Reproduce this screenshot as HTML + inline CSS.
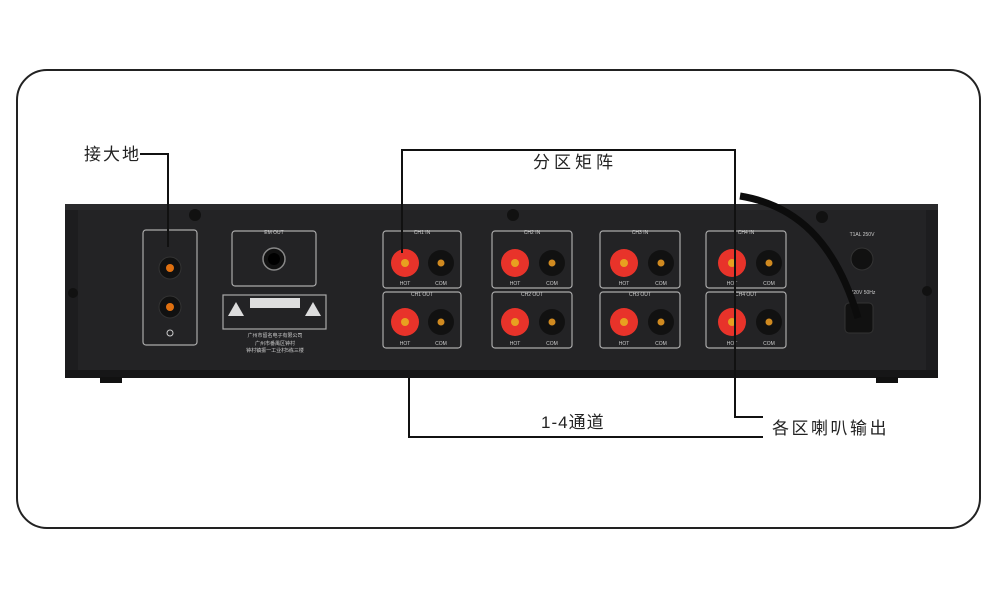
<!DOCTYPE html>
<html><head><meta charset="utf-8"><style>
html,body{margin:0;padding:0;background:#fff;}
svg{display:block;}
text{font-family:"Liberation Sans","Noto Sans CJK SC",sans-serif;}
</style></head><body>
<svg width="1000" height="595" viewBox="0 0 1000 595" xmlns="http://www.w3.org/2000/svg">
<rect x="17" y="70" width="963" height="458" rx="30" fill="#fff" stroke="#222" stroke-width="2"/>
<rect x="65" y="204" width="873" height="174" fill="#1d1d1f"/>
<rect x="65" y="204" width="873" height="6" fill="#2a2a2c"/>
<rect x="78" y="210" width="848" height="160" fill="#232325"/>
<rect x="65" y="370" width="873" height="8" fill="#161617"/>
<rect x="100" y="377" width="22" height="6" fill="#111"/>
<rect x="876" y="377" width="22" height="6" fill="#111"/>
<g fill="#111"><circle cx="195" cy="215" r="6"/><circle cx="513" cy="215" r="6"/><circle cx="822" cy="217" r="6"/><circle cx="73" cy="293" r="5"/><circle cx="927" cy="291" r="5"/></g>
<g fill="none" stroke="#aaa" stroke-width="1.2">
<rect x="143" y="230" width="54" height="115" rx="3"/>
<rect x="232" y="231" width="84" height="55" rx="3"/>
<rect x="383" y="231" width="78" height="57" rx="3"/><rect x="383" y="292" width="78" height="56" rx="3"/>
<rect x="492" y="231" width="80" height="57" rx="3"/><rect x="492" y="292" width="80" height="56" rx="3"/>
<rect x="600" y="231" width="80" height="57" rx="3"/><rect x="600" y="292" width="80" height="56" rx="3"/>
<rect x="706" y="231" width="80" height="57" rx="3"/><rect x="706" y="292" width="80" height="56" rx="3"/>
<rect x="223" y="295" width="103" height="34"/>
</g>
<g fill="#ccc" font-size="5" text-anchor="middle">
<text x="274" y="234">EM OUT</text>
<text x="422" y="234">CH1 IN</text><text x="422" y="296">CH1 OUT</text>
<text x="532" y="234">CH2 IN</text><text x="532" y="296">CH2 OUT</text>
<text x="640" y="234">CH3 IN</text><text x="640" y="296">CH3 OUT</text>
<text x="746" y="234">CH4 IN</text><text x="746" y="296">CH4 OUT</text>
<text x="862" y="236">T1AL 250V</text><text x="863" y="294">220V 50Hz</text>
<text x="275" y="337">广州市留名电子有限公司</text><text x="275" y="345">广州市番禺区钟村</text><text x="275" y="352">钟村镇振一工业村5栋三楼</text>
</g>
<rect x="250" y="298" width="50" height="10" fill="#ddd"/>
<polygon points="228,316 236,302 244,316" fill="#ddd"/><polygon points="305,316 313,302 321,316" fill="#ddd"/>
<g><circle cx="170" cy="268" r="11" fill="#111" stroke="#333"/><circle cx="170" cy="268" r="4" fill="#e07010"/>
<circle cx="170" cy="307" r="11" fill="#111" stroke="#333"/><circle cx="170" cy="307" r="4" fill="#e07010"/>
<circle cx="170" cy="333" r="3" fill="none" stroke="#ccc"/></g>
<circle cx="274" cy="259" r="11" fill="#111" stroke="#888" stroke-width="1.5"/><circle cx="274" cy="259" r="6" fill="#000"/>
<g>
<circle cx="405" cy="263" r="14" fill="#e8332a"/><circle cx="405" cy="263" r="4" fill="#e8a020"/><circle cx="441" cy="263" r="13" fill="#111"/><circle cx="441" cy="263" r="3.5" fill="#d08a20"/>
<circle cx="405" cy="322" r="14" fill="#e8332a"/><circle cx="405" cy="322" r="4" fill="#e8a020"/><circle cx="441" cy="322" r="13" fill="#111"/><circle cx="441" cy="322" r="3.5" fill="#d08a20"/>
<circle cx="515" cy="263" r="14" fill="#e8332a"/><circle cx="515" cy="263" r="4" fill="#e8a020"/><circle cx="552" cy="263" r="13" fill="#111"/><circle cx="552" cy="263" r="3.5" fill="#d08a20"/>
<circle cx="515" cy="322" r="14" fill="#e8332a"/><circle cx="515" cy="322" r="4" fill="#e8a020"/><circle cx="552" cy="322" r="13" fill="#111"/><circle cx="552" cy="322" r="3.5" fill="#d08a20"/>
<circle cx="624" cy="263" r="14" fill="#e8332a"/><circle cx="624" cy="263" r="4" fill="#e8a020"/><circle cx="661" cy="263" r="13" fill="#111"/><circle cx="661" cy="263" r="3.5" fill="#d08a20"/>
<circle cx="624" cy="322" r="14" fill="#e8332a"/><circle cx="624" cy="322" r="4" fill="#e8a020"/><circle cx="661" cy="322" r="13" fill="#111"/><circle cx="661" cy="322" r="3.5" fill="#d08a20"/>
<circle cx="732" cy="263" r="14" fill="#e8332a"/><circle cx="732" cy="263" r="4" fill="#e8a020"/><circle cx="769" cy="263" r="13" fill="#111"/><circle cx="769" cy="263" r="3.5" fill="#d08a20"/>
<circle cx="732" cy="322" r="14" fill="#e8332a"/><circle cx="732" cy="322" r="4" fill="#e8a020"/><circle cx="769" cy="322" r="13" fill="#111"/><circle cx="769" cy="322" r="3.5" fill="#d08a20"/>
</g>
<g fill="#ccc" font-size="5" text-anchor="middle">
<text x="405" y="285">HOT</text><text x="441" y="285">COM</text><text x="405" y="345">HOT</text><text x="441" y="345">COM</text>
<text x="515" y="285">HOT</text><text x="552" y="285">COM</text><text x="515" y="345">HOT</text><text x="552" y="345">COM</text>
<text x="624" y="285">HOT</text><text x="661" y="285">COM</text><text x="624" y="345">HOT</text><text x="661" y="345">COM</text>
<text x="732" y="285">HOT</text><text x="769" y="285">COM</text><text x="732" y="345">HOT</text><text x="769" y="345">COM</text>
</g>
<circle cx="862" cy="259" r="11" fill="#111" stroke="#333"/>
<rect x="845" y="303" width="28" height="30" rx="4" fill="#111" stroke="#333"/>
<path d="M740,196 C795,205 835,240 858,318" fill="none" stroke="#0c0c0c" stroke-width="7"/>
<g fill="none" stroke="#111" stroke-width="2">
<polyline points="140,154 168,154 168,247"/>
<polyline points="402,253 402,150 735,150 735,417 763,417"/>
<polyline points="409,378 409,437 763,437"/>
</g>
<g fill="#222" font-size="17">
<text x="84" y="160" letter-spacing="2">接大地</text>
<text x="533" y="168" letter-spacing="4">分区矩阵</text>
<text x="541" y="428" letter-spacing="1">1-4通道</text>
<text x="772" y="434" letter-spacing="2.5">各区喇叭输出</text>
</g>
</svg>
</body></html>
